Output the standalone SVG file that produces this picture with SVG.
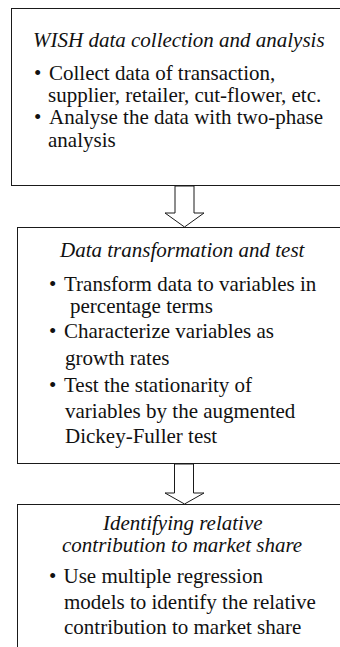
<svg xmlns="http://www.w3.org/2000/svg" width="340" height="647" viewBox="0 0 340 647">
  <style>
    .box { fill: #ffffff; stroke: #1a1a1a; stroke-width: 1; }
    .arrow { fill: #ffffff; stroke: #1a1a1a; stroke-width: 1; stroke-linejoin: miter; }
    text { font-family: "Liberation Serif", "Times New Roman", serif; font-size: 21px; fill: #111111; }
    .title { font-style: italic; }
  </style>
  <rect width="340" height="647" fill="#ffffff"/>

  <!-- step 1 -->
  <g id="step-collection">
    <rect class="box" x="11.5" y="8.5" width="340" height="177"/>
    <text class="title" x="33" y="47">WISH data collection and analysis</text>
    <text x="34" y="80">•</text>
    <text x="49" y="80">Collect data of transaction,</text>
    <text x="48" y="102">supplier, retailer, cut-flower, etc.</text>
    <text x="34" y="124">•</text>
    <text x="49" y="124">Analyse the data with two-phase</text>
    <text x="48" y="147">analysis</text>
  </g>

  <!-- step 2 -->
  <g id="step-transformation">
    <rect class="box" x="17.5" y="227.5" width="340" height="236"/>
    <text class="title" x="60" y="256.5">Data transformation and test</text>
    <text x="49" y="290.5">•</text>
    <text x="64" y="290.5">Transform data to variables in</text>
    <text x="70" y="312.5">percentage terms</text>
    <text x="49" y="338">•</text>
    <text x="64" y="338">Characterize variables as</text>
    <text x="65" y="365">growth rates</text>
    <text x="49" y="392">•</text>
    <text x="64" y="392">Test the stationarity of</text>
    <text x="65" y="418">variables by the augmented</text>
    <text x="65" y="443">Dickey-Fuller test</text>
  </g>

  <!-- step 3 -->
  <g id="step-contribution">
    <rect class="box" x="17.5" y="504.5" width="340" height="200"/>
    <text class="title" x="103" y="530">Identifying relative</text>
    <text class="title" x="62" y="552">contribution to market share</text>
    <text x="49" y="583">•</text>
    <text x="63.5" y="583">Use multiple regression</text>
    <text x="64" y="609">models to identify the relative</text>
    <text x="64" y="634">contribution to market share</text>
  </g>

  <!-- hollow block arrows between steps -->
  <g id="connectors">
    <polygon class="arrow" points="175,186 175,213 165,213 184.5,227 204,213 194,213 194,186"/>
    <polygon class="arrow" points="174.5,464 174.5,493 165,493 184.5,504 204,493 193.5,493 193.5,464"/>
  </g>
</svg>
